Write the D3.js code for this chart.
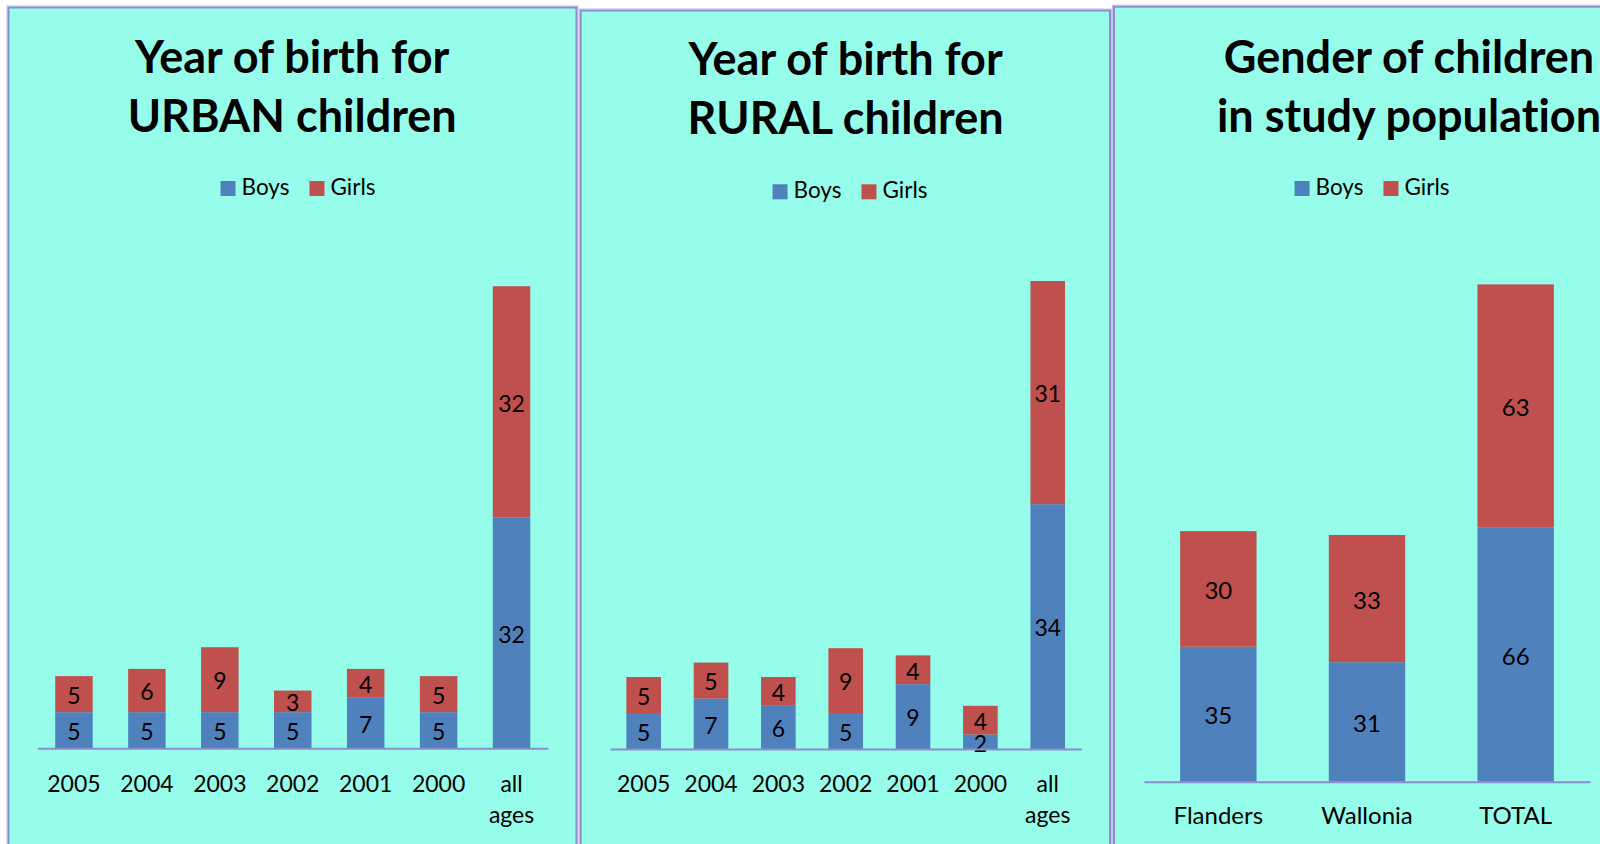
<!DOCTYPE html>
<html>
<head>
<meta charset="utf-8">
<script src="https://cdn.jsdelivr.net/npm/d3@7/dist/d3.min.js"></script>
<style>
  html, body { margin: 0; padding: 0; background: #ffffff; }
  svg { display: block; }
  text { font-family: Lato, "Open Sans", sans-serif; fill: #000; font-variant-ligatures: none; }
</style>
</head>
<body>
<svg id="chart" width="1600" height="844"></svg>
<script>
// ---------------- DATA ----------------
const seriesNames = ["Boys", "Girls"];

const urbanCategories = ["2005", "2004", "2003", "2002", "2001", "2000", "all ages"];
const urbanBoys  = [5, 5, 5, 5, 7, 5, 32];
const urbanGirls = [5, 6, 9, 3, 4, 5, 32];

const ruralCategories = ["2005", "2004", "2003", "2002", "2001", "2000", "all ages"];
const ruralBoys  = [5, 7, 6, 5, 9, 2, 34];
const ruralGirls = [5, 5, 4, 9, 4, 4, 31];

const regionCategories = ["Flanders", "Wallonia", "TOTAL"];
const regionBoys  = [35, 31, 66];
const regionGirls = [30, 33, 63];

const urbanTitle  = ["Year of birth for", "URBAN children"];
const ruralTitle  = ["Year of birth for", "RURAL children"];
const regionTitle = ["Gender of children", "in study population"];

// ---------------- STYLE / LAYOUT ----------------
const colors = { Boys: "#4f81bd", Girls: "#c0504d" };
const bg = "#95fdea";
const borderColor = "#8c8ccf";

const panels = [
  {
    cats: urbanCategories, boys: urbanBoys, girls: urbanGirls, title: urbanTitle,
    box: { x: 8.5, y: 7.5, w: 568, h: 900 },
    titleX: 292.2, titleY: [72.7, 131.7], titleSize: 45,
    legendCx: 298, legendTop: 181,
    plot: { x0: 37.5, x1: 548, axisY: 748.3, max: 70, pxPerUnit: 7.22 },
    font: 23, labelBase: 43.4
  },
  {
    cats: ruralCategories, boys: ruralBoys, girls: ruralGirls, title: ruralTitle,
    box: { x: 580.7, y: 10.5, w: 529.3, h: 900 },
    titleX: 845.6, titleY: [75, 134.3], titleSize: 45,
    legendCx: 850, legendTop: 184.3,
    plot: { x0: 610, x1: 1081.4, axisY: 749, max: 70, pxPerUnit: 7.2 },
    font: 23, labelBase: 43.3
  },
  {
    cats: regionCategories, boys: regionBoys, girls: regionGirls, title: regionTitle,
    box: { x: 1114, y: 6.7, w: 520, h: 900 },
    titleX: 1409, titleY: [72.7, 131.7], titleSize: 45,
    legendCx: 1372, legendTop: 181,
    plot: { x0: 1144, x1: 1590, axisY: 781.7, max: 140, pxPerUnit: 3.855 },
    font: 24, labelBase: 42.3
  }
];

const svg = d3.select("#chart");

panels.forEach(p => {
  const g = svg.append("g");

  // panel background + double border
  g.append("rect")
    .attr("x", p.box.x - 1.5).attr("y", p.box.y - 1.5)
    .attr("width", p.box.w + 3).attr("height", p.box.h + 3)
    .attr("fill", "none").attr("stroke", "#c4c4ea").attr("stroke-width", 1);
  g.append("rect")
    .attr("x", p.box.x).attr("y", p.box.y)
    .attr("width", p.box.w).attr("height", p.box.h)
    .attr("fill", bg).attr("stroke", borderColor).attr("stroke-width", 2);

  // title
  const t = g.append("text")
    .attr("text-anchor", "middle")
    .attr("font-weight", "bold")
    .attr("font-size", p.titleSize);
  p.title.forEach((line, i) => {
    t.append("tspan").attr("x", p.titleX).attr("y", p.titleY[i]).text(line);
  });

  // scales
  const x = d3.scaleBand()
    .domain(p.cats)
    .range([p.plot.x0, p.plot.x1])
    .paddingInner(0.486)
    .paddingOuter(0.243);
  const y = d3.scaleLinear()
    .domain([0, p.plot.max])
    .range([p.plot.axisY, p.plot.axisY - p.plot.max * p.plot.pxPerUnit]);

  const rows = p.cats.map((c, i) => ({ cat: c, Boys: p.boys[i], Girls: p.girls[i] }));
  const stacked = d3.stack().keys(seriesNames)(rows);

  // bars
  stacked.forEach(layer => {
    const key = layer.key;
    g.append("g").selectAll("rect")
      .data(layer)
      .join("rect")
      .attr("x", d => x(d.data.cat))
      .attr("width", x.bandwidth())
      .attr("y", d => y(d[1]))
      .attr("height", d => y(d[0]) - y(d[1]))
      .attr("fill", colors[key]);
  });

  // data labels
  stacked.forEach(layer => {
    g.append("g").selectAll("text")
      .data(layer)
      .join("text")
      .attr("text-anchor", "middle")
      .attr("font-size", p.font)
      .attr("x", d => x(d.data.cat) + x.bandwidth() / 2)
      .attr("y", d => (y(d[0]) + y(d[1])) / 2 + p.font * 0.36 + 1.5)
      .text(d => d[1] - d[0]);
  });

  // axis
  const axis = g.append("g")
    .attr("transform", `translate(0,${p.plot.axisY})`)
    .call(d3.axisBottom(x).tickSize(0).tickSizeOuter(0));
  axis.select(".domain").attr("stroke", borderColor).attr("stroke-width", 2);
  axis.selectAll(".tick text").each(function(d) {
    const el = d3.select(this);
    el.text(null)
      .attr("y", p.labelBase).attr("dy", null)
      .attr("font-size", p.font)
      .attr("font-family", "Lato, 'Open Sans', sans-serif")
      .attr("fill", "#000");
    const words = d.split(" ");
    words.forEach((w, i) => {
      el.append("tspan").attr("x", 0).attr("y", p.labelBase + i * 31).text(w);
    });
  });

  // legend
  const leg = g.append("g");
  let cx = 0;
  const sq = 15;
  seriesNames.forEach((name, i) => {
    leg.append("rect").attr("x", cx).attr("y", p.legendTop)
      .attr("width", sq).attr("height", sq).attr("fill", colors[name]);
    const tx = leg.append("text").attr("x", cx + sq + 6).attr("y", p.legendTop + sq - 1)
      .attr("font-size", 22.5).text(name);
    cx += sq + 6 + tx.node().getComputedTextLength() + (i < seriesNames.length - 1 ? 20 : 0);
  });
  leg.attr("transform", `translate(${p.legendCx - cx / 2},0)`);
});
</script>
</body>
</html>
